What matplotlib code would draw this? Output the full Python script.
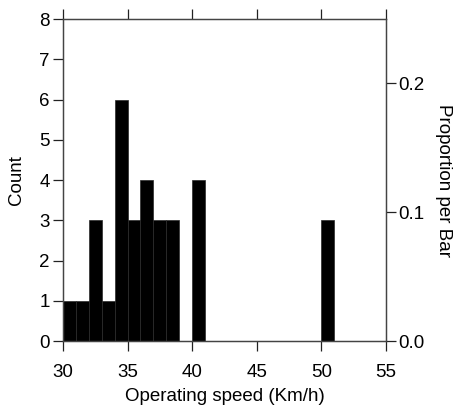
import numpy as np
import matplotlib.pyplot as plt

plt.rcParams['font.family'] = ['Liberation Sans', 'DejaVu Sans']
plt.rcParams['font.size'] = 13.5

# Histogram data (bin width 1 km/h, from 30 to 55)
bin_edges = np.arange(30, 56, 1)
counts = [1, 1, 3, 1, 6, 3, 4, 3, 3, 0,
          4, 0, 0, 0, 0, 0, 0, 0, 0, 0,
          3, 0, 0, 0, 0]
total = sum(counts)

fig = plt.figure(figsize=(4.59, 4.05), dpi=100)
ax = fig.add_axes([0.137, 0.158, 0.704, 0.795])

ax.hist(bin_edges[:-1], bins=bin_edges, weights=counts,
        color='black', edgecolor='#2a2a2a', linewidth=0.5)

ax.set_xlim(30, 55)
ax.set_ylim(0, 8)
ax.set_xticks([30, 35, 40, 45, 50, 55])
ax.set_yticks(range(0, 9))
ax.set_xlabel('Operating speed (Km/h)', labelpad=5)
ax.set_ylabel('Count', labelpad=10)
ax.tick_params(direction='out', length=7.5, width=0.9, color='#222222',
               top=True, labeltop=False)
ax.tick_params(axis='x', pad=9)
ax.tick_params(axis='y', pad=2)

for s in ax.spines.values():
    s.set_color('#444444')
    s.set_linewidth(0.9)

# right axis: proportion per bar
ax2 = ax.twinx()
ax2.set_ylim(0, 8 / total)
ax2.set_yticks([0.0, 0.1, 0.2])
ax2.set_yticklabels(['0.0', '0.1', '0.2'])
ax2.set_ylabel('Proportion per Bar', rotation=270, labelpad=20)
ax2.tick_params(direction='out', length=7.5, width=0.9, color='#222222', pad=1)
for s in ax2.spines.values():
    s.set_color('#444444')
    s.set_linewidth(0.9)

fig.savefig('out.png', dpi=100)
